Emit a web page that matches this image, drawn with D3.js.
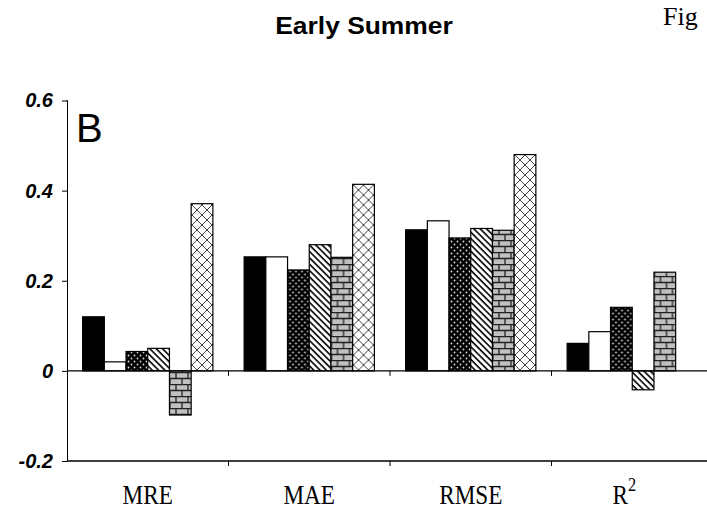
<!DOCTYPE html>
<html>
<head>
<meta charset="utf-8">
<script src="https://cdn.jsdelivr.net/npm/d3@7"></script>
<style>
  body { margin: 0; background: #fff; }
  svg { display: block; }
</style>
</head>
<body>
<svg id="chart" width="707" height="511"></svg>
<script>
// values
const categories = ["MRE", "MAE", "RMSE", "R2"];
const seriesNames = ["solid", "open", "dots", "hatch", "brick", "cross"];
const solidVals = [0.12, 0.253, 0.313, 0.061];
const openVals = [0.02, 0.253, 0.333, 0.087];
const dotsVals = [0.043, 0.224, 0.295, 0.141];
const hatchVals = [0.05, 0.28, 0.316, -0.042];
const brickVals = [-0.098, 0.252, 0.312, 0.219];
const crossVals = [0.371, 0.414, 0.48, null];
const yTicks = [-0.2, 0, 0.2, 0.4, 0.6];
const yTickLabels = ["-0.2", "0", "0.2", "0.4", "0.6"];

const allVals = [solidVals, openVals, dotsVals, hatchVals, brickVals, crossVals];
const fills = {
  solid: "#000",
  open: "#fff",
  dots: "url(#dots)",
  hatch: "url(#hatch)",
  brick: "url(#brick)",
  cross: "url(#cross)"
};

const svg = d3.select("#chart");
const defs = svg.append("defs");

// black with white dots
let p = defs.append("pattern").attr("id", "dots").attr("patternUnits", "userSpaceOnUse")
  .attr("width", 6).attr("height", 6);
p.append("rect").attr("width", 6).attr("height", 6).attr("fill", "#000");
p.append("circle").attr("cx", 1.5).attr("cy", 1.5).attr("r", 0.9).attr("fill", "#ddd");
p.append("circle").attr("cx", 4.5).attr("cy", 4.5).attr("r", 0.9).attr("fill", "#ddd");

// diagonal hatch
p = defs.append("pattern").attr("id", "hatch").attr("patternUnits", "userSpaceOnUse")
  .attr("width", 4.5).attr("height", 4.5).attr("patternTransform", "rotate(-45)");
p.append("rect").attr("width", 4.5).attr("height", 4.5).attr("fill", "#fff");
p.append("line").attr("x1", 1).attr("x2", 1).attr("y1", 0).attr("y2", 4.5)
  .attr("stroke", "#000").attr("stroke-width", 1.6);

// bricks
p = defs.append("pattern").attr("id", "brick").attr("patternUnits", "userSpaceOnUse")
  .attr("width", 12).attr("height", 12);
p.append("rect").attr("width", 12).attr("height", 12).attr("fill", "#c0c0c0");
p.append("path").attr("d", "M0,0.5H12M0,6.5H12M1,0V6.5M7,6.5V12")
  .attr("stroke", "#222").attr("stroke-width", 1.3).attr("fill", "none");

// diagonal cross hatch
p = defs.append("pattern").attr("id", "cross").attr("patternUnits", "userSpaceOnUse")
  .attr("width", 10).attr("height", 10);
p.append("rect").attr("width", 10).attr("height", 10).attr("fill", "#fff");
p.append("path").attr("d", "M0,0L10,10M10,0L0,10")
  .attr("stroke", "#444").attr("stroke-width", 1).attr("fill", "none");

const y = d3.scaleLinear().domain([-0.2, 0.6]).range([461, 100.5]);
const x0 = d3.scaleBand().domain(categories).range([67, 713]);
const x1 = d3.scaleBand().domain(seriesNames).range([0, x0.bandwidth()])
  .paddingInner(0).paddingOuter(0.72);

// bars
const groups = svg.append("g").selectAll("g")
  .data(categories)
  .enter().append("g")
  .attr("transform", d => "translate(" + x0(d) + ",0)");

groups.selectAll("rect")
  .data((c, i) => seriesNames.map((s, j) => ({ s: s, v: allVals[j][i] })).filter(d => d.v != null))
  .enter().append("rect")
  .attr("x", d => x1(d.s))
  .attr("width", x1.bandwidth())
  .attr("y", d => y(Math.max(0, d.v)))
  .attr("height", d => Math.abs(y(d.v) - y(0)))
  .attr("fill", d => fills[d.s])
  .attr("stroke", "#000")
  .attr("stroke-width", 1.2);

// y axis
const yAxis = svg.append("g")
  .attr("transform", "translate(67,0)")
  .call(d3.axisLeft(y).tickValues(yTicks).tickSize(5).tickPadding(9)
    .tickFormat((d, i) => yTickLabels[i]));
yAxis.select(".domain").attr("d", "M-0.5," + y(0.6) + "H0.5V" + y(-0.2)).attr("stroke", "#000");
yAxis.selectAll("text")
  .attr("font-family", "Arial, 'Liberation Sans', sans-serif")
  .attr("font-size", 20).attr("font-weight", "bold").attr("font-style", "italic")
  .attr("fill", "#000");

// zero line and bottom line
[0, -0.2].forEach(v => {
  svg.append("line").attr("x1", 67).attr("x2", 707)
    .attr("y1", y(v)).attr("y2", y(v))
    .attr("stroke", "#000").attr("stroke-width", 1.3);
  svg.append("g").selectAll("line")
    .data(categories.slice(1))
    .enter().append("line")
    .attr("x1", d => x0(d)).attr("x2", d => x0(d))
    .attr("y1", y(v)).attr("y2", y(v) + 5)
    .attr("stroke", "#000").attr("stroke-width", 1);
});

// category labels (the original font is drawn a bit narrow)
const lab = svg.append("g").selectAll("text")
  .data(categories)
  .enter().append("text")
  .attr("transform", d => "translate(" + (x0(d) + x0.bandwidth() / 2 - (d === "R2" ? 8 : 0)) + ",504) scale(0.86,1)")
  .attr("text-anchor", "middle")
  .attr("font-family", "'Times New Roman', 'Liberation Serif', serif")
  .attr("font-size", 27)
  .attr("fill", "#000");
lab.filter(d => d !== "R2").text(d => d);
const r2 = lab.filter(d => d === "R2");
r2.append("tspan").text("R");
r2.append("tspan").attr("dy", -13).attr("font-size", 19).text("2");

// panel letter
svg.append("text").attr("x", 76).attr("y", 142)
  .attr("font-family", "Arial, 'Liberation Sans', sans-serif")
  .attr("font-size", 40).text("B");

// title
svg.append("text").attr("transform", "translate(364,34) scale(1.1,1)")
  .attr("text-anchor", "middle")
  .attr("font-family", "Arial, 'Liberation Sans', sans-serif")
  .attr("font-size", 24).attr("font-weight", "bold")
  .text("Early Summer");

svg.append("text").attr("x", 663).attr("y", 25)
  .attr("font-family", "'Times New Roman', 'Liberation Serif', serif")
  .attr("font-size", 26).text("Fig");
</script>
</body>
</html>
